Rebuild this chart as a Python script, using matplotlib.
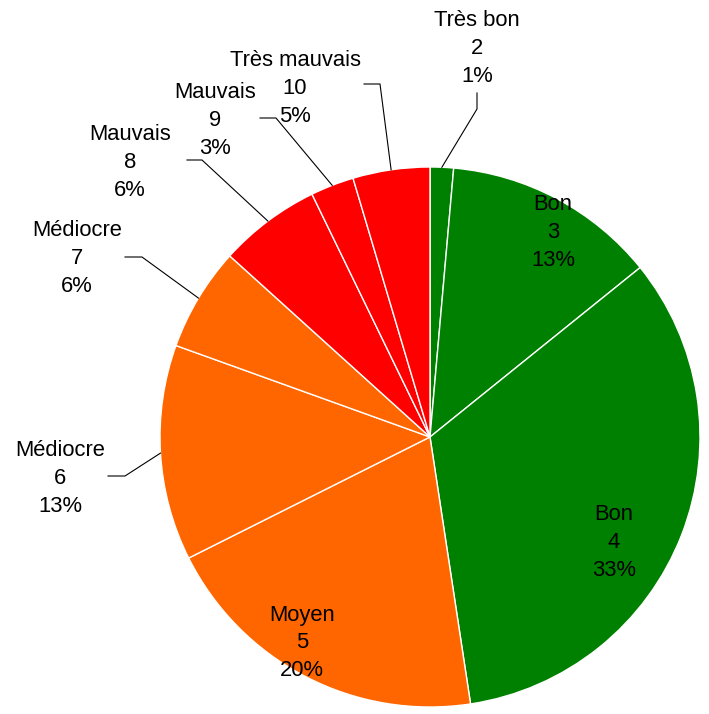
import matplotlib
matplotlib.use("Agg")
import matplotlib.pyplot as plt
import numpy as np

# =====================
# DONNÉES
# =====================

categories = ["Très bon", "Bon", "Bon", "Moyen", "Médiocre", "Médiocre",
              "Mauvais", "Mauvais", "Très mauvais"]
notes = [2, 3, 4, 5, 6, 7, 8, 9, 10]
parts = [1.4, 12.8, 33.4, 20.0, 12.9, 6.2, 6.1, 2.6, 4.6]
couleurs = ["#008000", "#008000", "#008000", "#FF6600", "#FF6600", "#FF6600",
            "#FF0000", "#FF0000", "#FF0000"]

W, H = 709, 714

# =====================
# MISE EN PAGE (pixels, y vers le bas)
# =====================

centre = (430, 437)
rayon = 270

# étiquettes intérieures : index -> position du texte
interieur = {1: (553, 230), 2: (614, 539), 3: (302, 640)}

# étiquettes extérieures : index -> (texte, coude, bout de trait)
exterieur = {
    0: ((477, 45), (477, 109), (477, 93)),
    8: ((295, 85), (380, 84), (364, 84)),
    7: ((215, 117), (276, 118), (260, 118)),
    6: ((130, 159), (202, 160), (187, 160)),
    5: ((77, 256), (142, 257), (125, 257)),
    4: ((60, 475), (125, 476), (108, 476)),
}


def py(y):
    return H - y


fig = plt.figure(figsize=(W / 100, H / 100), dpi=100)
ax = fig.add_axes([0, 0, 1, 1])

wedges, _ = ax.pie(
    parts,
    colors=couleurs,
    startangle=90,
    counterclock=False,
    center=(centre[0], py(centre[1])),
    radius=rayon,
    wedgeprops=dict(edgecolor="white", linewidth=1),
)

ax.set_xlim(0, W)
ax.set_ylim(0, H)
ax.set_aspect("auto")
ax.axis("off")

police = dict(family=["Liberation Sans", "DejaVu Sans"], fontsize=15.8,
              ha="center", va="center", color="black")


def etiquette(x, y, i):
    lignes = [categories[i], str(notes[i]), f"{round(parts[i]):.0f}%"]
    for k, txt in enumerate(lignes):
        ax.text(x, py(y + 3 + (k - 1) * 28), txt, **police)


for i, (x, y) in interieur.items():
    etiquette(x, y, i)

for i, (pos_txt, coude, bout) in exterieur.items():
    w = wedges[i]
    ang = np.deg2rad((w.theta1 + w.theta2) / 2)
    ax_ = w.center[0] + w.r * np.cos(ang)
    ay_ = w.center[1] + w.r * np.sin(ang)
    ax.plot([ax_, coude[0], bout[0]], [ay_, py(coude[1]), py(bout[1])],
            color="black", linewidth=0.8)
    etiquette(pos_txt[0], pos_txt[1], i)

fig.savefig("out.png", dpi=100)
